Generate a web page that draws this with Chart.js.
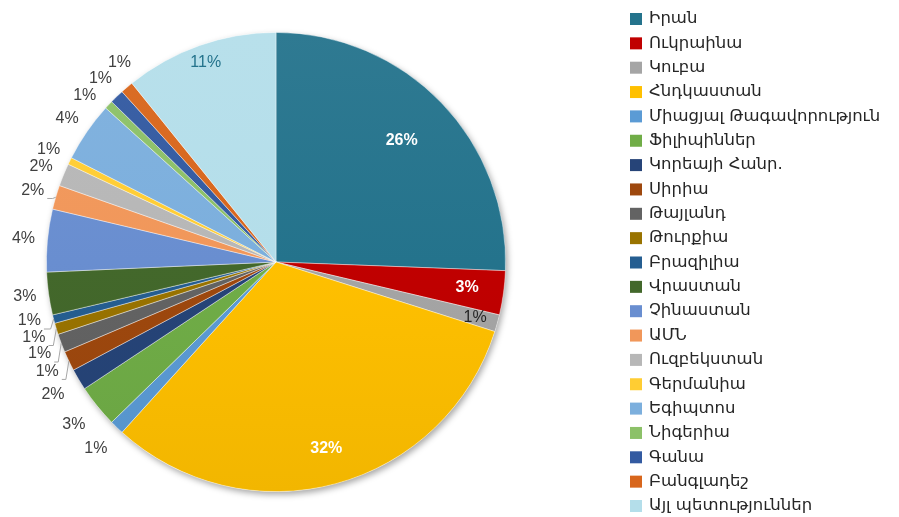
<!DOCTYPE html>
<html><head><meta charset="utf-8">
<script src="https://cdn.jsdelivr.net/npm/chart.js@4.4.0/dist/chart.umd.min.js"></script>
<style>html,body{margin:0;padding:0;background:#fff;}#wrap{width:899px;height:517px;position:relative;}</style>
</head><body><div id="wrap"><canvas id="c"></canvas></div>
<script>
// ---- data ----
const categories = ["Իրան","Ուկրաինա","Կուբա","Հնդկաստան","Միացյալ Թագավորություն","Ֆիլիպիններ","Կորեայի Հանր.","Սիրիա","Թայլանդ","Թուրքիա","Բրազիլիա","Վրաստան","Չինաստան","ԱՄՆ","Ուզբեկստան","Գերմանիա","Եգիպտոս","Նիգերիա","Գանա","Բանգլադեշ","Այլ պետություններ"];
const shares = [25.6,3.1,1.2,31.8,1.0,3.0,1.5,1.4,1.3,0.8,0.6,3.0,4.4,1.7,1.6,0.5,4.2,0.6,1.0,0.9,10.8];
const pctLabels = ["26%","3%","1%","32%","1%","3%","2%","1%","1%","1%","1%","3%","4%","2%","2%","1%","4%","1%","1%","1%","11%"];

// ---- styles ----
const colors = ["#24738C","#C00000","#A5A5A5","#FFC000","#5B9BD5","#70AD47","#264478","#9E480E","#636363","#997300","#255E91","#43682B","#698ED0","#F1975A","#B7B7B7","#FFCD33","#7CAFDD","#8CC168","#335AA1","#D8661C","#B4DEEA"];
const leaderSet = new Set(["ԱՄՆ","Բրազիլիա","Թուրքիա","Թայլանդ","Սիրիա"]);

function mix(hex, target, t){
  const n=parseInt(hex.slice(1),16);let r=n>>16,g=(n>>8)&255,b=n&255;
  r=Math.round(r+(target-r)*t);g=Math.round(g+(target-g)*t);b=Math.round(b+(target-b)*t);
  return `rgb(${r},${g},${b})`;
}
function fill(ctx){
  const base=colors[ctx.dataIndex];
  const chart=ctx.chart, a=chart.chartArea;
  if(!a) return base;
  const g=chart.ctx.createLinearGradient(0,a.top,0,a.bottom);
  g.addColorStop(0,mix(base,255,0.05));
  g.addColorStop(0.5,base);
  g.addColorStop(1,mix(base,0,0.05));
  return g;
}

const shadowPlugin={id:'shadow',beforeDatasetsDraw(chart){
  const arc=chart.getDatasetMeta(0).data[0]; if(!arc) return;
  const {x,y,outerRadius}=arc.getProps(['x','y','outerRadius'],true);
  const c=chart.ctx; c.save();
  c.shadowColor='rgba(0,0,0,0.35)';c.shadowBlur=6;c.shadowOffsetX=2;c.shadowOffsetY=3;
  c.fillStyle='#fff';c.beginPath();c.arc(x,y,outerRadius,0,Math.PI*2);c.fill();c.restore();
}};

const FONT='"Liberation Sans Narrow","Liberation Sans",sans-serif';
const labelPlugin={id:'pielabels',afterDatasetsDraw(chart){
  const c=chart.ctx, meta=chart.getDatasetMeta(0);
  const outside=[];
  c.save();c.textAlign='center';c.textBaseline='middle';
  meta.data.forEach((arc,i)=>{
    const p=arc.getProps(['x','y','startAngle','endAngle','outerRadius'],true);
    const mid=(p.startAngle+p.endAngle)/2;
    const cx=Math.cos(mid), sy=Math.sin(mid);
    const leftSide=cx<0;
    if(!leftSide || shares[i]>=10){
      let d=p.outerRadius*0.84, col='#fff', font='bold 16px '+FONT;
      if(shares[i]<2){d=p.outerRadius*0.9;col='#262626';font='16px '+FONT;}
      if(i===categories.length-1){d=p.outerRadius*0.92;col='#24738C';font='16px '+FONT;}
      if(shares[i]>20 && mid<0){d=p.outerRadius*0.76;}
      c.font=font;c.fillStyle=col;
      c.fillText(pctLabels[i],p.x+cx*d,p.y+sy*d);
    } else {
      const R=p.outerRadius+(sy>0.5?30:24);
      outside.push({i,mid,p,R,y:p.y+sy*R});
    }
  });
  outside.sort((a,b)=>a.y-b.y);
  const gap=16.5;
  for(let it=0;it<300;it++){
    for(let k=1;k<outside.length;k++){
      const g=outside[k].y-outside[k-1].y;
      if(g<gap){const d=(gap-g)/2;outside[k-1].y-=d;outside[k].y+=d;}
    }
  }
  c.font='16px '+FONT;
  outside.forEach(o=>{
    const {p,R}=o; const dy=o.y-p.y;
    const x=p.x-Math.sqrt(Math.max(0,R*R-dy*dy));
    c.fillStyle='#404040';
    c.fillText(pctLabels[o.i],x,o.y);
    if(leaderSet.has(categories[o.i])){
      const w=c.measureText(pctLabels[o.i]).width;
      const ex=p.x+Math.cos(o.mid)*p.outerRadius, ey=p.y+Math.sin(o.mid)*p.outerRadius;
      const ly=o.y+8;
      c.strokeStyle='#A6A6A6';c.lineWidth=1;c.beginPath();
      c.moveTo(x+w/2+3,ly);c.lineTo(ex-3,ly);c.lineTo(ex,ey);c.stroke();
    }
  });
  c.restore();
}};

const legendPlugin={id:'customLegend',afterDraw(chart){
  const c=chart.ctx;c.save();
  const x0=630, y0=19, step=24.35;
  c.textBaseline='middle';c.textAlign='left';
  c.font='16.5px "DejaVu Sans",sans-serif';
  categories.forEach((name,i)=>{
    const y=y0+i*step;
    c.fillStyle=colors[i];c.fillRect(x0,y-6,12,12);
    c.fillStyle='#262626';c.fillText(name,x0+19,y);
  });
  c.restore();
}};

new Chart(document.getElementById('c'),{
  type:'pie',
  data:{labels:categories,datasets:[{data:shares,backgroundColor:fill,borderColor:'rgba(255,255,255,0.5)',borderWidth:0.8}]},
  options:{
    responsive:true,maintainAspectRatio:false,animation:false,
    layout:{padding:{left:46,right:393,top:32,bottom:25}},
    plugins:{legend:{display:false},tooltip:{enabled:false}}
  },
  plugins:[shadowPlugin,labelPlugin,legendPlugin]
});
</script></body></html>
